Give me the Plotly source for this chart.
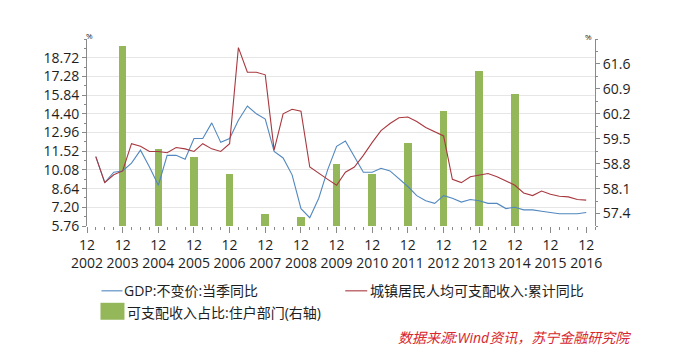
import plotly.graph_objects as go

# ---------------- data ----------------
years = list(range(2003, 2017))
quarter_months = ["03", "06", "09", "12"]
quarters = [f"{y}-{m}-01" for y in years for m in quarter_months]

# GDP:不变价:当季同比 (%), quarterly 2003Q1–2016Q4
gdp = [11.1, 9.1, 9.9, 10.0,
       10.6, 11.6, 10.3, 8.9,
       11.2, 11.2, 10.9, 12.5,
       12.5, 13.7, 12.2, 12.5,
       13.9, 15.0, 14.4, 14.0,
       11.5, 11.0, 9.7, 7.1,
       6.4, 7.9, 10.1, 11.9,
       12.3, 11.1, 9.9, 9.9,
       10.2, 10.0, 9.4, 8.8,
       8.1, 7.7, 7.5, 8.1,
       7.9, 7.6, 7.8, 7.7,
       7.5, 7.5, 7.1, 7.2,
       7.0, 7.0, 6.9, 6.8,
       6.7, 6.7, 6.7, 6.8]

# 城镇居民人均可支配收入:累计同比 (%)
income = [11.1, 9.1, 9.7, 10.0,
          12.1, 11.9, 11.5, 11.5,
          11.4, 11.8, 11.7, 11.5,
          12.1, 11.7, 11.5, 12.1,
          19.5, 17.6, 17.6, 17.4,
          11.6, 14.4, 14.75, 14.6,
          10.3, 9.8, 9.35, 8.9,
          9.9, 10.3, 11.2, 12.2,
          13.1, 13.65, 14.1, 14.15,
          13.8, 13.35, 13.05, 12.7,
          9.35, 9.1, 9.55, 9.7,
          9.8, 9.55, 9.2, 8.9,
          8.3, 8.1, 8.45, 8.2,
          8.05, 8.0, 7.8, 7.75]

# 可支配收入占比:住户部门 (%, right axis), annual 2003–2014
share_years = [f"{y}-12-01" for y in range(2003, 2015)]
share = [62.09, 59.21, 58.99, 58.50, 57.39, 57.30,
         58.78, 58.50, 59.39, 60.28, 61.39, 60.75]

tick_dates = [f"{y}-12-01" for y in range(2002, 2017)]
tick_text = [f"12<br>{y}" for y in range(2002, 2017)]

left_ticks = [5.76, 7.20, 8.64, 10.08, 11.52, 12.96, 14.40, 15.84, 17.28, 18.72]
right_ticks = [57.4, 58.1, 58.8, 59.5, 60.2, 60.9, 61.6]

# ---------------- style ----------------
BLUE = "#5288bf"
RED = "#a8383f"
GREEN = "#94b75a"
TXT = "#1e1e1e"
AX = "#8a8a8a"
FONT = "Open Sans, Noto Sans CJK SC, sans-serif"

OFF = 8  # page body margin
W, H = 684 - 2 * OFF, 359 - 2 * OFF
# plot area in page pixels: x 86.5..595, y 38.5..226
ML = 86.5 - OFF
MR = W - (595 - OFF)
MT = 38.5 - OFF
MB = H - (226 - OFF)
PW, PH = W - ML - MR, H - MT - MB


def px(x):
    return (x - OFF - ML) / PW


def py(y):
    return (H - MB - (y - OFF)) / PH


fig = go.Figure()

fig.add_trace(go.Bar(
    x=share_years, y=share, name="可支配收入占比:住户部门(右轴)",
    marker=dict(color=GREEN, line=dict(width=0)),
    width=78 * 24 * 3600 * 1000, yaxis="y", showlegend=False))

fig.add_trace(go.Scatter(
    x=quarters, y=gdp, name="GDP:不变价:当季同比", mode="lines",
    line=dict(color=BLUE, width=1.1), yaxis="y2", showlegend=False))

fig.add_trace(go.Scatter(
    x=quarters, y=income, name="城镇居民人均可支配收入:累计同比", mode="lines",
    line=dict(color=RED, width=1.1), yaxis="y2", showlegend=False))

fig.update_layout(
    width=W, height=H,
    margin=dict(l=ML, r=MR, t=MT, b=MB, autoexpand=False),
    paper_bgcolor="white", plot_bgcolor="white",
    font=dict(family=FONT, size=14, color=TXT),
    bargap=0,
    xaxis=dict(
        type="date", range=["2002-12-01", "2017-03-01"],
        tickmode="array", tickvals=tick_dates, ticktext=tick_text,
        ticks="outside", ticklen=6, tickcolor=AX, tickwidth=1,
        minor=dict(ticks="outside", ticklen=3, tickcolor=AX,
                   dtick="M3", tick0="2002-12-01", showgrid=False),
        showgrid=False, showline=False, zeroline=False,
        tickfont=dict(size=14, color=TXT),
    ),
    yaxis=dict(
        side="right", range=[57.05, 62.3],
        tickmode="array", tickvals=right_ticks,
        ticktext=[f"{v:.1f}" for v in right_ticks],
        ticks="outside", ticklen=4, tickcolor=AX,
        minor=dict(ticks="outside", ticklen=2, tickcolor=AX, dtick=0.35,
                   tick0=57.05, showgrid=False),
        showgrid=False, zeroline=False,
        showline=True, linecolor=AX, linewidth=1,
        tickfont=dict(size=14, color=TXT),
    ),
    yaxis2=dict(
        overlaying="y", side="left", range=[5.76, 20.16],
        tickmode="array", tickvals=left_ticks,
        ticktext=[f"{v:.2f}" for v in left_ticks],
        ticks="outside", ticklen=4, tickcolor=AX,
        minor=dict(ticks="outside", ticklen=2, tickcolor=AX, dtick=0.72,
                   tick0=5.76, showgrid=False),
        showgrid=True, gridcolor="#e6e6e6", gridwidth=1,
        zeroline=False, showline=True, linecolor=AX, linewidth=1,
        tickfont=dict(size=14, color=TXT),
    ),
)

# "%" unit marks
fig.add_annotation(text="%", xref="paper", yref="paper", x=px(89), y=py(35),
                   showarrow=False, font=dict(size=8, color=TXT),
                   xanchor="center", yanchor="middle")
fig.add_annotation(text="%", xref="paper", yref="paper", x=px(588), y=py(36),
                   showarrow=False, font=dict(size=8, color=TXT),
                   xanchor="center", yanchor="middle")

# manual legend
fig.add_shape(type="line", xref="paper", yref="paper",
              x0=px(101), x1=px(122), y0=py(291), y1=py(291),
              line=dict(color=BLUE, width=1.1))
fig.add_annotation(text="GDP:不变价:当季同比", xref="paper", yref="paper",
                   x=px(122), y=py(291), xanchor="left", yanchor="middle",
                   showarrow=False, font=dict(size=14, color=TXT))
fig.add_shape(type="line", xref="paper", yref="paper",
              x0=px(345), x1=px(367), y0=py(291), y1=py(291),
              line=dict(color=RED, width=1.1))
fig.add_annotation(text="城镇居民人均可支配收入:累计同比", xref="paper", yref="paper",
                   x=px(368), y=py(291), xanchor="left", yanchor="middle",
                   showarrow=False, font=dict(size=14, color=TXT))
fig.add_shape(type="rect", xref="paper", yref="paper",
              x0=px(100), x1=px(124), y0=py(320), y1=py(303),
              line=dict(width=0), fillcolor=GREEN)
fig.add_annotation(text="可支配收入占比:住户部门(右轴)", xref="paper", yref="paper",
                   x=px(125), y=py(313), xanchor="left", yanchor="middle",
                   showarrow=False, font=dict(size=14, color=TXT))

# source note
fig.add_annotation(text="<i>数据来源:Wind资讯，苏宁金融研究院</i>", xref="paper", yref="paper",
                   x=px(514), y=py(338), xanchor="center", yanchor="middle",
                   showarrow=False, font=dict(size=14, color="#d8262e"))

fig.write_html("out.html")
